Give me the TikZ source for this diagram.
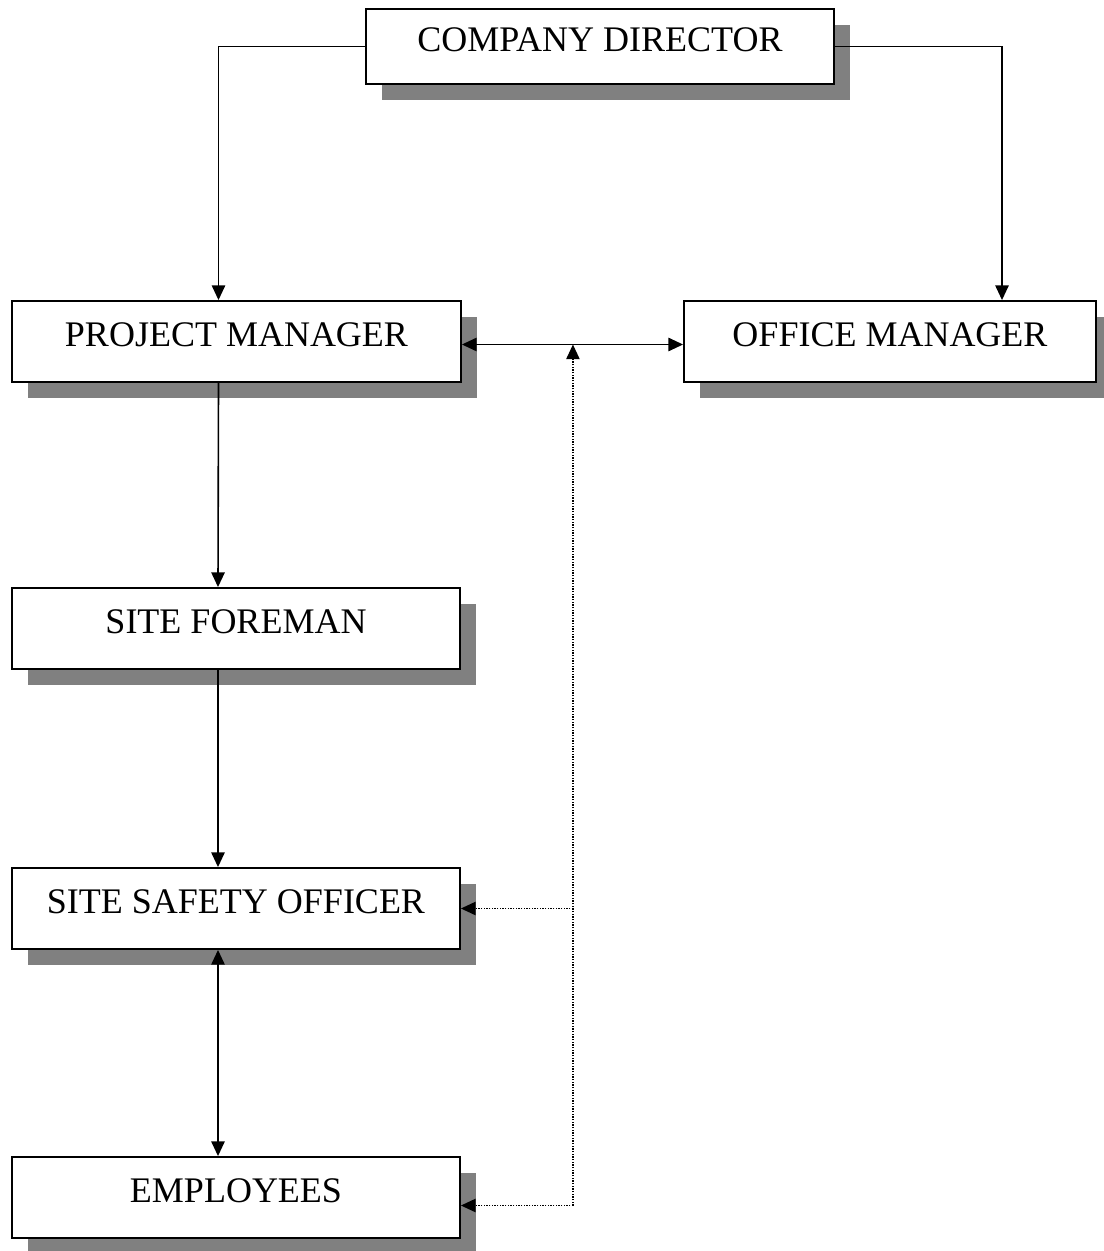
\documentclass[tikz,border=0pt]{standalone}
\usepackage{fontspec}
\setmainfont{Liberation Serif}
\usepackage{tikz}
\usetikzlibrary{arrows.meta,positioning,shadows}
\newlength{\unitpx}
\setlength{\unitpx}{0.75pt}
\tikzset{
	post/.style={draw,line width=1.4pt,fill=white,font=\fontsize{27}{32}\selectfont,text height=18pt,text depth=11pt,minimum height=81\unitpx,inner sep=0pt,
		drop shadow={shadow xshift=12pt,shadow yshift=-12pt,fill=black!50,opacity=1}},
	arr/.style={-{Triangle[length=11pt,width=10pt]},line width=1.2pt},
	dualarr/.style={{Triangle[length=11pt,width=10pt]}-{Triangle[length=11pt,width=10pt]},line width=1.2pt},
	dotarr/.style={-{Triangle[length=11pt,width=10pt]},line width=1pt,dash pattern=on 1pt off 1pt}
}
\begin{document}
\begin{tikzpicture}[x=\unitpx,y=-\unitpx]
		\useasboundingbox (0,0) rectangle (1103,1251);
		\node[post,minimum width=468\unitpx,minimum height=75\unitpx] (cd) at (600,46.5) {COMPANY DIRECTOR};
		\node[post,minimum width=449\unitpx] (pm) at (236.5,341.5) {PROJECT MANAGER};
		\node[post,minimum width=412\unitpx] (om) at (890,341.5) {OFFICE MANAGER};
		\foreach \n/\t/\y in {sf/SITE FOREMAN/628.5,sso/SITE SAFETY OFFICER/908.5,emp/EMPLOYEES/1197.5}
			\node[post,minimum width=448\unitpx] (\n) at (236,\y) {\t};
		\coordinate (link) at ([xshift=111\unitpx,yshift=-3\unitpx]pm.east);
		\coordinate (empin) at ([yshift=-8\unitpx]emp.east);
		\draw[arr] (cd.west) -| ([xshift=-18\unitpx]pm.north);
		\draw[arr] (cd.east) -| ([xshift=112\unitpx]om.north);
		\draw[dualarr] ([yshift=-3\unitpx]pm.east) -- ([yshift=-3\unitpx]om.west);
		\draw[arr] ([xshift=-18\unitpx]pm.south) -- ([xshift=-18\unitpx]sf.north);
		\draw[arr] ([xshift=-18\unitpx]sf.south) -- ([xshift=-18\unitpx]sso.north);
		\draw[dualarr] ([xshift=-18\unitpx]sso.south) -- ([xshift=-18\unitpx]emp.north);
		\draw[dotarr] (link |- empin) -- (link);
		\draw[dotarr] (link |- empin) -- (empin);
		\draw[dotarr] (link |- sso.east) -- (sso.east);
	\end{tikzpicture}
\end{document}
